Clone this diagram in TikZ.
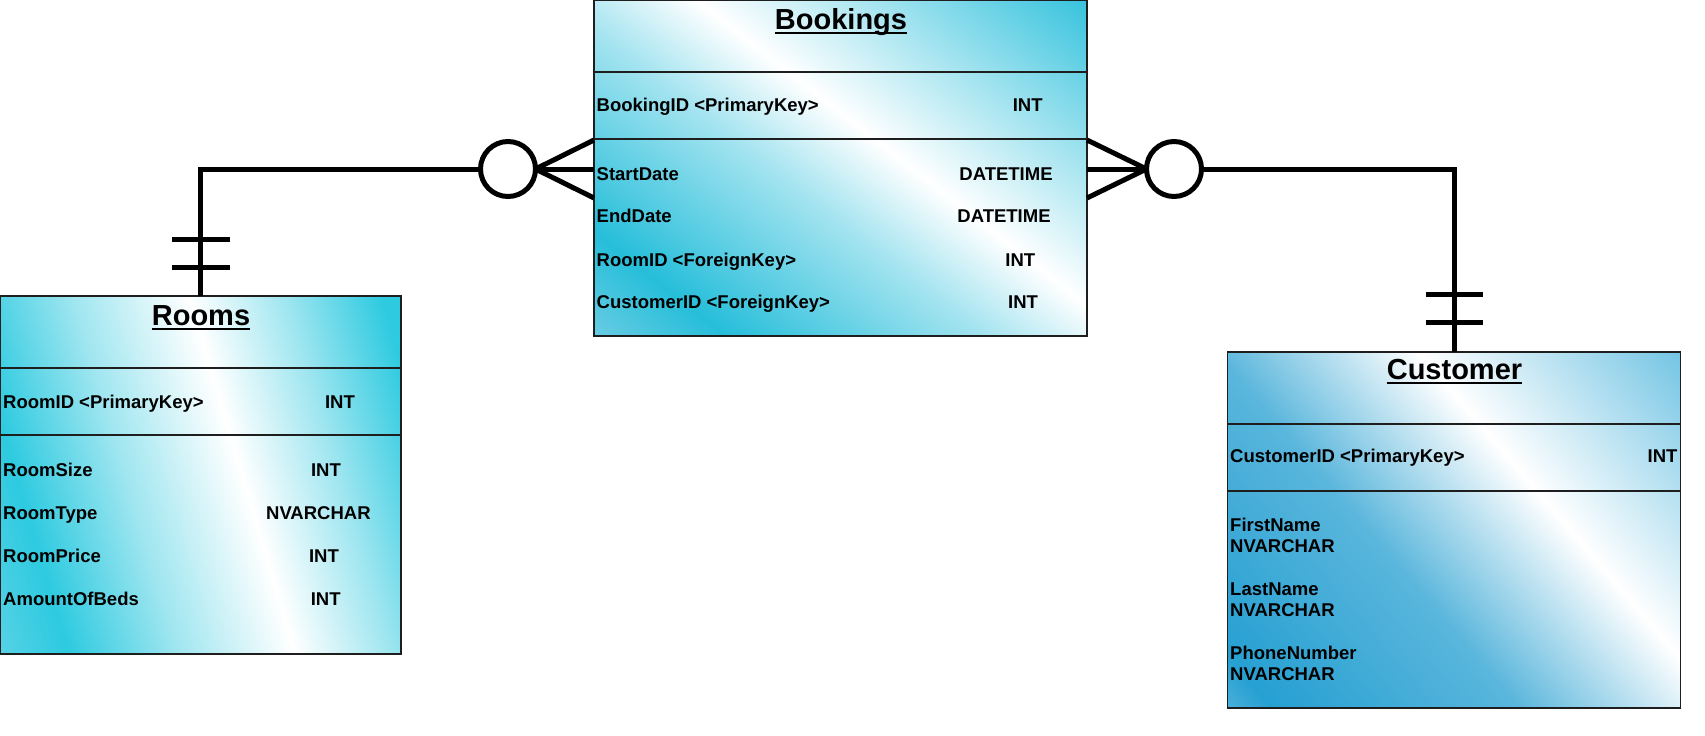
\documentclass[tikz,border=0pt]{standalone}
\usepackage{fontspec}
\setmainfont{Liberation Sans}
\usetikzlibrary{calc}

\definecolor{bkA}{RGB}{120,208,228}
\definecolor{bkD}{RGB}{38,190,218}
\definecolor{bkL}{RGB}{165,228,240}
\definecolor{rmA}{RGB}{115,215,232}
\definecolor{rmD}{RGB}{45,202,224}
\definecolor{rmL}{RGB}{160,230,240}
\definecolor{cuA}{RGB}{105,188,224}
\definecolor{cuD}{RGB}{38,160,210}
\definecolor{cuM}{RGB}{90,182,220}
\definecolor{cuR}{RGB}{95,188,224}
\definecolor{edge}{RGB}{30,30,30}

\pgfdeclarehorizontalshading{bookshade}{100bp}{color(0bp)=(bkA); color(26.3bp)=(bkA); color(34.2bp)=(bkD); color(46.7bp)=(bkL); color(53.4bp)=(white); color(73.7bp)=(bkD); color(100bp)=(bkD)}
\pgfdeclarehorizontalshading{roomshade}{100bp}{color(0bp)=(rmA); color(27.5bp)=(rmA); color(36.1bp)=(rmD); color(44.4bp)=(rmL); color(53.1bp)=(white); color(60.2bp)=(rmL); color(67.6bp)=(rmD); color(100bp)=(rmD)}
\pgfdeclarehorizontalshading{custshade}{100bp}{color(0bp)=(cuA); color(25.2bp)=(cuA); color(30.1bp)=(cuD); color(44.8bp)=(cuM); color(56.9bp)=(white); color(74.8bp)=(cuR); color(100bp)=(cuR)}

\tikzset{
  entity/.style={draw=edge, line width=1.5pt, inner sep=0pt, outer sep=0pt, rectangle},
  gradfill/.style 2 args={path picture={\shade[shading=#1, shading angle=#2]
      ($(path picture bounding box.center)+(-320,-320)$) rectangle ($(path picture bounding box.center)+(320,320)$);}},
  divider/.style={draw=edge, line width=1.5pt},
  rowtxt/.style={font=\bfseries\fontsize{18.5}{22}\selectfont, inner sep=0pt, anchor=base west},
  typetxt/.style={font=\bfseries\fontsize{18.5}{22}\selectfont, inner sep=0pt, anchor=base},
  titletxt/.style={font=\bfseries\fontsize{29}{34}\selectfont, inner sep=0pt, anchor=base},
  uline/.style={line width=1.8pt},
  rel/.style={line width=5pt, draw=black},
  circ/.style={circle, draw=black, line width=5pt, fill=white, minimum size=55pt, inner sep=0pt, outer sep=0pt},
}

\begin{document}
\begin{tikzpicture}[x=1pt, y=-1pt]
\useasboundingbox (0,0) rectangle (1705,736);

% ---------- entities ----------
\node[entity, gradfill={bookshade}{52}, minimum width=493pt, minimum height=336pt] (bookings) at (840.5,168) {};
\node[entity, gradfill={roomshade}{16.5}, minimum width=401pt, minimum height=358pt] (rooms) at (200.5,475) {};
\node[entity, gradfill={custshade}{40.5}, minimum width=453pt, minimum height=356pt] (customer) at (1454,530) {};

\foreach \e in {bookings,rooms,customer}{
  \draw[divider] ($(\e.north west)+(0,72)$) -- ($(\e.north east)+(0,72)$);
  \draw[divider] ($(\e.north west)+(0,139)$) -- ($(\e.north east)+(0,139)$);
}

% ---------- Bookings text ----------
\node[titletxt] (bt) at (841,29.3) {Bookings};
\draw[uline] ([yshift=-4pt]bt.base west) -- ([yshift=-4pt]bt.base east);
\node[rowtxt] (b1) at (596.5,111.7) {BookingID <PrimaryKey>};
\node[rowtxt] (b2) at (596.5,180) {StartDate};
\node[rowtxt] (b3) at (596.5,222.7) {EndDate};
\node[rowtxt] (b4) at (596.5,266) {RoomID <ForeignKey>};
\node[rowtxt] (b5) at (596.5,308.3) {CustomerID <ForeignKey>};
\node[typetxt] (b1t) at (1027.7,111.7) {INT};
\node[typetxt] (b2t) at (1006,180) {DATETIME};
\node[typetxt] (b3t) at (1004,222.7) {DATETIME};
\node[typetxt] (b4t) at (1020.3,266) {INT};
\node[typetxt] (b5t) at (1023,308.3) {INT};

% ---------- Rooms text ----------
\node[titletxt] (rt) at (201,325) {Rooms};
\draw[uline] ([yshift=-4pt]rt.base west) -- ([yshift=-4pt]rt.base east);
\node[rowtxt] (r1) at (3,408.3) {RoomID <PrimaryKey>};
\node[rowtxt] (r2) at (3,476) {RoomSize};
\node[rowtxt] (r3) at (3,519) {RoomType};
\node[rowtxt] (r4) at (3,562.3) {RoomPrice};
\node[rowtxt] (r5) at (3,605) {AmountOfBeds};
\node[typetxt] (r1t) at (340,408.3) {INT};
\node[typetxt] (r2t) at (326,476) {INT};
\node[typetxt] (r3t) at (318.4,519) {NVARCHAR};
\node[typetxt] (r4t) at (324,562.3) {INT};
\node[typetxt] (r5t) at (325.7,605) {INT};

% ---------- Customer text ----------
\node[titletxt] (ct) at (1454.5,379.8) {Customer};
\draw[uline] ([yshift=-3.5pt]ct.base west) -- ([yshift=-3.5pt]ct.base east);
\node[rowtxt] (c1r) at (1230,462.6) {CustomerID <PrimaryKey>};
\node[typetxt, anchor=base east] (c1rt) at (1677.6,462.6) {INT};
\node[rowtxt] (c2r) at (1230,531.5) {FirstName};
\node[rowtxt] (c2rt) at (1230,552.2) {NVARCHAR};
\node[rowtxt] (c3r) at (1230,595.5) {LastName};
\node[rowtxt] (c3rt) at (1230,616.6) {NVARCHAR};
\node[rowtxt] (c4r) at (1230,659.5) {PhoneNumber};
\node[rowtxt] (c4rt) at (1230,680.2) {NVARCHAR};

% ---------- relationships ----------
\node[circ] (o1) at (508,169) {};
\node[circ] (o2) at (1174,169) {};

% Rooms -- Bookings
\draw[rel] (rooms.north) |- (o1.west);
\draw[rel] ($(rooms.north)+(-28.5,-29)$) -- ($(rooms.north)+(29.5,-29)$);
\draw[rel] ($(rooms.north)+(-28.5,-57)$) -- ($(rooms.north)+(29.5,-57)$);
\draw[rel] (o1.east) -- ($(bookings.north west)+(0,140)$);
\draw[rel] (o1.east) -- (o1.east -| bookings.west);
\draw[rel] (o1.east) -- ($(bookings.north west)+(0,198)$);

% Bookings -- Customer
\draw[rel] (o2.west) -- ($(bookings.north east)+(0,140)$);
\draw[rel] (o2.west) -- (o2.west -| bookings.east);
\draw[rel] (o2.west) -- ($(bookings.north east)+(0,198)$);
\draw[rel] (o2.east) -| (customer.north);
\draw[rel] ($(customer.north)+(-28.5,-58)$) -- ($(customer.north)+(28.5,-58)$);
\draw[rel] ($(customer.north)+(-28.5,-29.5)$) -- ($(customer.north)+(28.5,-29.5)$);
\end{tikzpicture}
\end{document}
